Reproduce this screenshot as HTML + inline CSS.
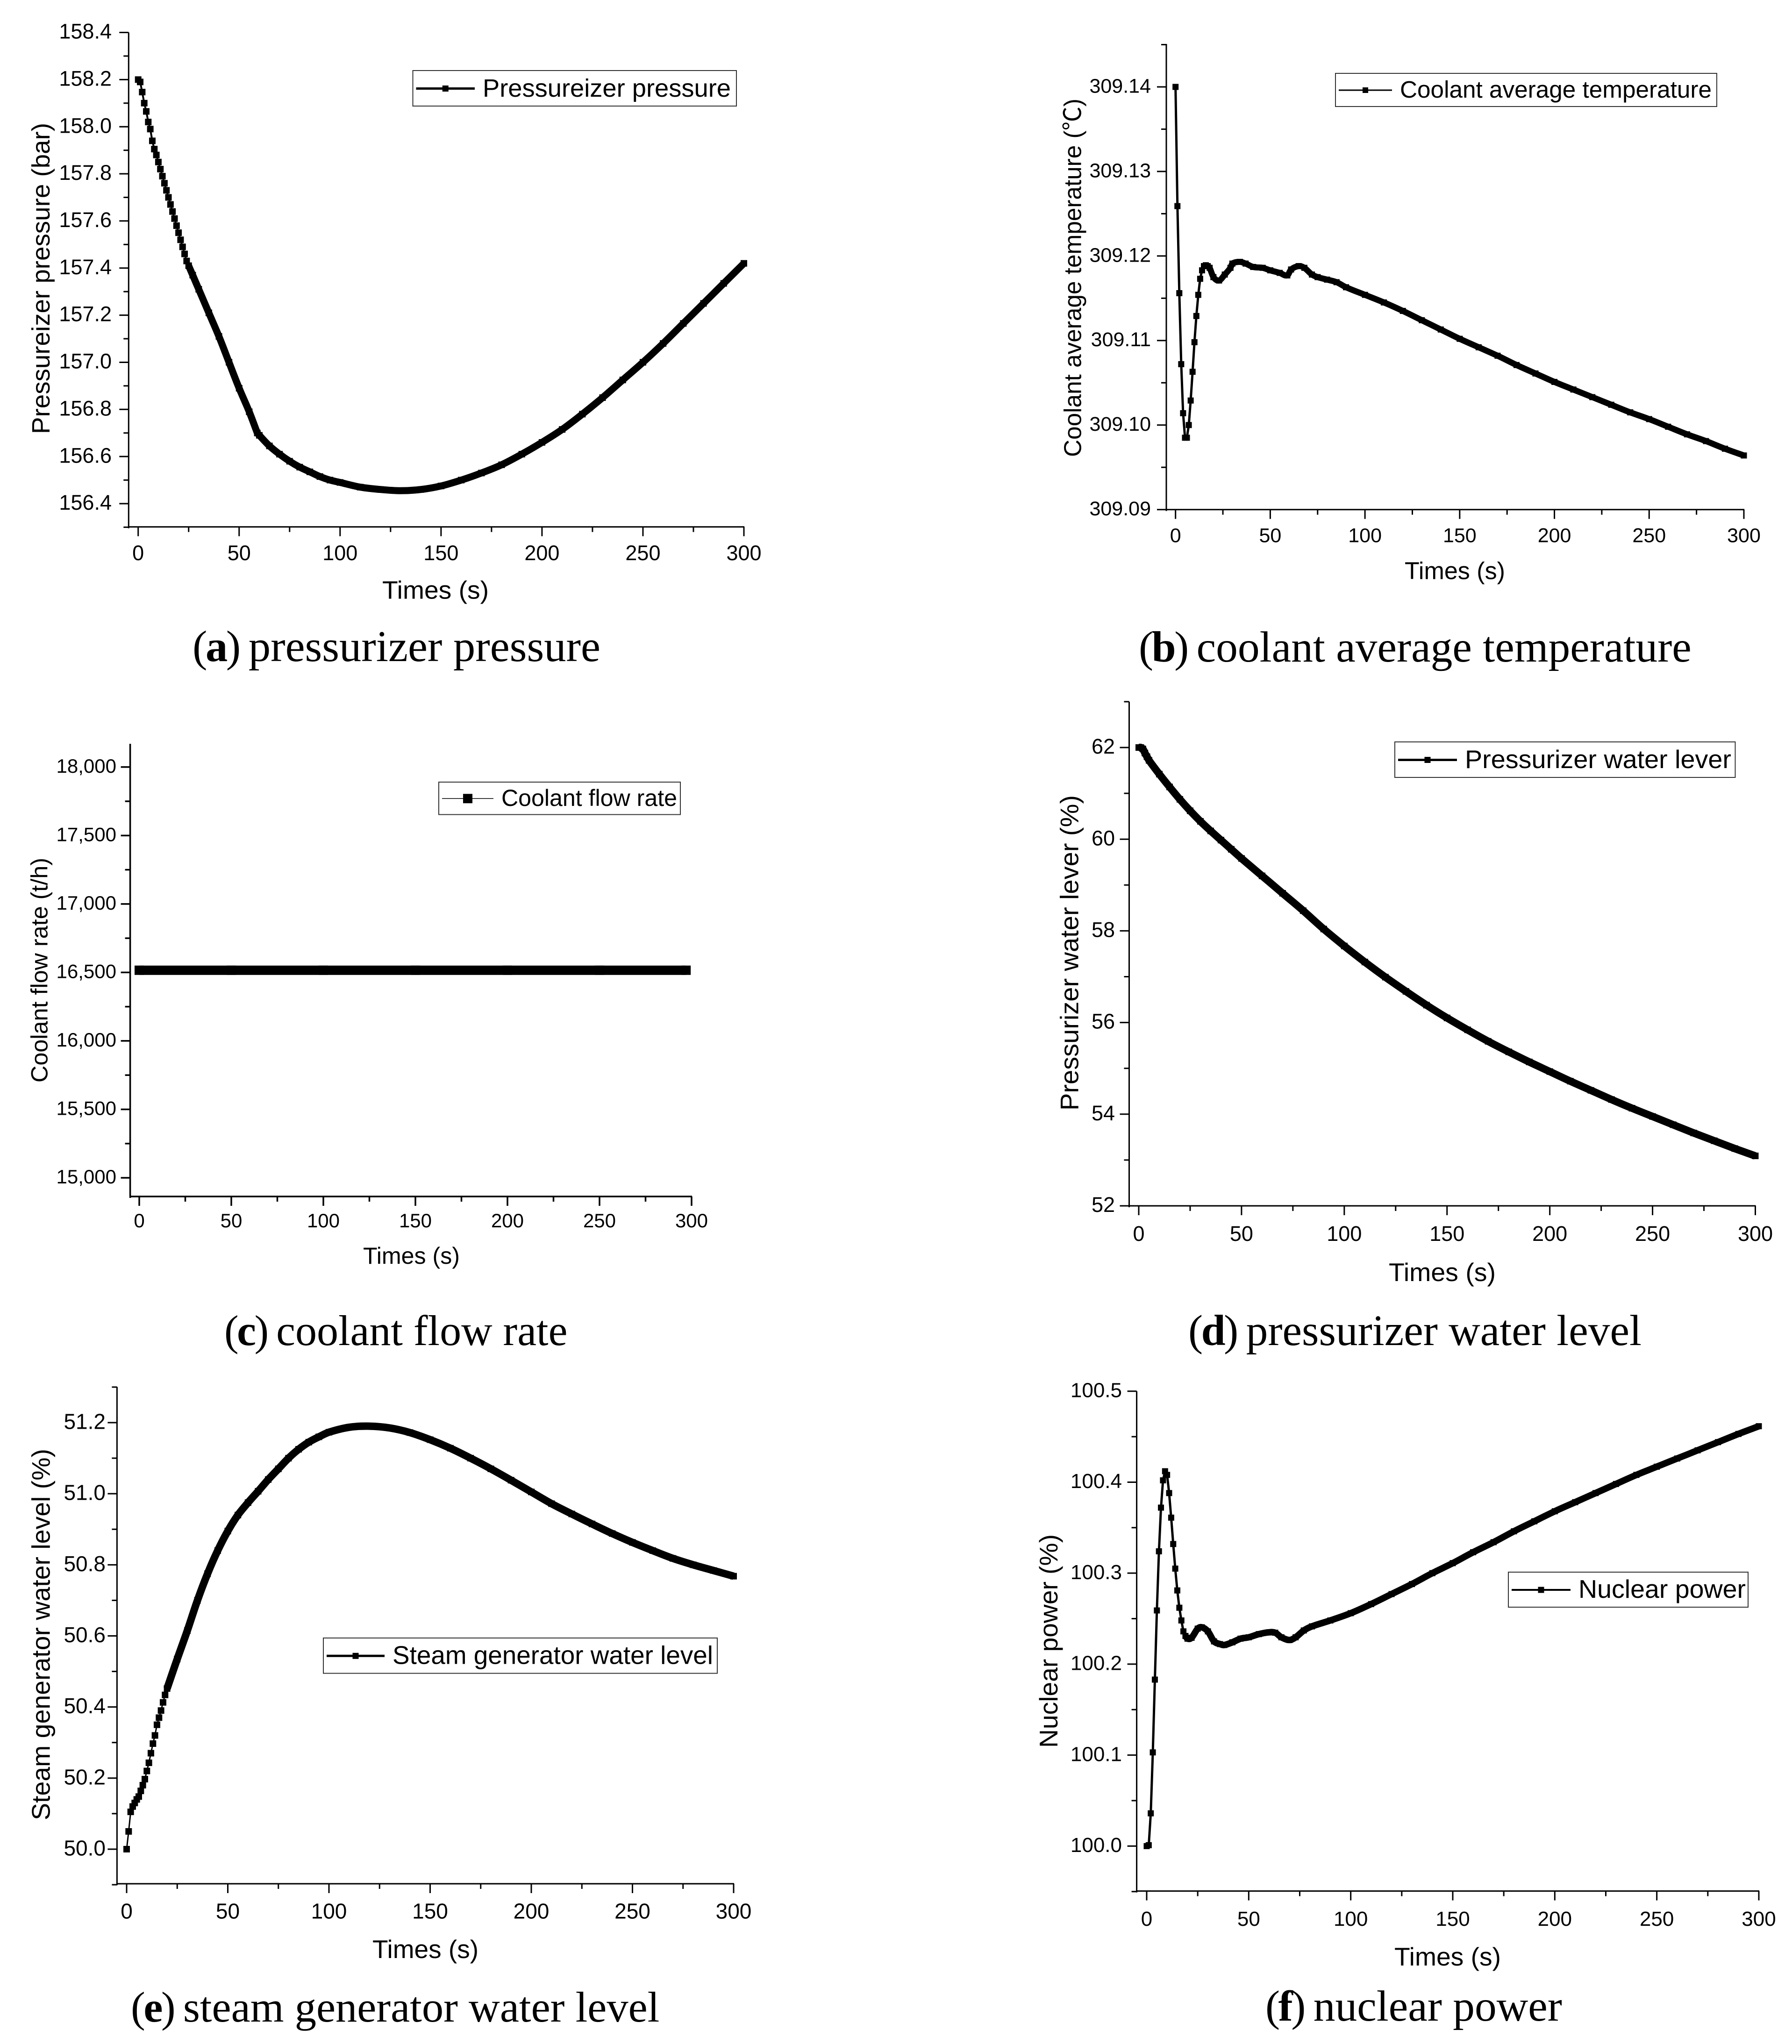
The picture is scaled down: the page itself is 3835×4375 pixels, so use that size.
<!DOCTYPE html>
<html lang="en">
<head>
<meta charset="utf-8">
<title>Transient response charts</title>
<style>
html,body{margin:0;padding:0;background:#fff;}
svg{display:block;}
text{font-family:"Liberation Sans","Noto Sans CJK SC",sans-serif;fill:#000;}
.caption{font-family:"Liberation Serif","Noto Serif CJK SC",serif;font-size:93.5px;}
.caption .p{letter-spacing:-3.5px;}
.caption .b{font-weight:bold;}
</style>
</head>
<body>
<svg id="figure" xmlns="http://www.w3.org/2000/svg" width="3835" height="4375" viewBox="0 0 3835 4375">
<rect width="3835" height="4375" fill="#fff"/>
<text class="caption" x="412" y="1415" style="font-size:94.5px"><tspan class="p">(<tspan class="b">a</tspan>) </tspan>pressurizer pressure</text>
<text class="caption" x="2437" y="1416"><tspan class="p">(<tspan class="b">b</tspan>) </tspan>coolant average temperature</text>
<text class="caption" x="480" y="2879" style="font-size:92px"><tspan class="p">(<tspan class="b">c</tspan>) </tspan>coolant flow rate</text>
<text class="caption" x="2543" y="2879"><tspan class="p">(<tspan class="b">d</tspan>) </tspan>pressurizer water level</text>
<text class="caption" x="280" y="4327" style="font-size:92.5px"><tspan class="p">(<tspan class="b">e</tspan>) </tspan>steam generator water level</text>
<text class="caption" x="2708" y="4325"><tspan class="p">(<tspan class="b">f</tspan>) </tspan>nuclear power</text>
</svg>
<script>
// ---------- shared x axis ----------
const xTicks = [0, 50, 100, 150, 200, 250, 300];
const xTickLabels = ['0', '50', '100', '150', '200', '250', '300'];
const xMinorTicks = [25, 75, 125, 175, 225, 275];

// ---------- (a) pressurizer pressure ----------
const aTimes = [0,1,2,3,4,5,6,7,8,9,10,11,12,13,14,15,16,17,18,19,20,21,22,23,24,25,27,30,35,40,45,50,55,59,60,65,70,75,80,85,90,95,100,110,120,130,140,150,160,170,180,190,200,210,220,230,240,250,260,270,280,290,300];
const aValues = [158.2,158.19,158.147,158.1,158.065,158.02,157.99,157.94,157.905,157.88,157.85,157.82,157.79,157.76,157.73,157.7,157.67,157.64,157.61,157.58,157.55,157.52,157.49,157.46,157.43,157.41,157.37,157.31,157.21,157.11,157.0,156.89,156.79,156.7,156.69,156.645,156.61,156.58,156.555,156.535,156.515,156.5,156.49,156.47,156.46,156.455,156.46,156.475,156.5,156.53,156.565,156.61,156.66,156.715,156.78,156.85,156.925,157.0,157.08,157.165,157.25,157.335,157.42];
const aYTicks = [156.4,156.6,156.8,157.0,157.2,157.4,157.6,157.8,158.0,158.2,158.4];
const aYLabels = ['156.4','156.6','156.8','157.0','157.2','157.4','157.6','157.8','158.0','158.2','158.4'];
const aYMinor = [156.3,156.5,156.7,156.9,157.1,157.3,157.5,157.7,157.9,158.1,158.3];

// ---------- (b) coolant average temperature ----------
const bTimes = [0,1,2,3,4,5,6,7,8,9,10,11,12,13,14,15,16,17,18,20,23,26,29,30,34,37,41,46,50,55,59,61,65,68,72,75,80,85,90,100,110,120,130,140,150,160,170,180,190,200,210,220,230,240,250,260,270,280,290,300];
const bValues = [309.14,309.1259,309.1156,309.1072,309.1014,309.0985,309.0985,309.1,309.1029,309.1063,309.1098,309.1129,309.1154,309.1173,309.1183,309.1188,309.1189,309.1188,309.1186,309.1175,309.1171,309.1178,309.1186,309.1191,309.1193,309.1191,309.1187,309.1186,309.1183,309.118,309.1177,309.1184,309.1188,309.1186,309.1178,309.1175,309.1172,309.1169,309.1163,309.1154,309.1145,309.1135,309.1124,309.1113,309.1102,309.1092,309.1082,309.1071,309.1061,309.1051,309.1042,309.1033,309.1024,309.1015,309.1007,309.0998,309.0989,309.0981,309.0972,309.0964];
const bYTicks = [309.09,309.10,309.11,309.12,309.13,309.14];
const bYLabels = ['309.09','309.10','309.11','309.12','309.13','309.14'];
const bYMinor = [309.095,309.105,309.115,309.125,309.135,309.145];

// ---------- (c) coolant flow rate ----------
const cTimes = [0,50,100,150,200,250,297];
const cValues = [16516,16516,16516,16516,16516,16516,16516];
const cYTicks = [15000,15500,16000,16500,17000,17500,18000];
const cYLabels = ['15,000','15,500','16,000','16,500','17,000','17,500','18,000'];
const cYMinor = [15250,15750,16250,16750,17250,17750];

// ---------- (d) pressurizer water level ----------
const dTimes = [0,1,2,3,4,5,10,15,20,25,30,35,40,45,50,60,70,80,90,100,110,120,130,140,150,160,170,180,190,200,210,220,230,240,250,260,270,280,290,300];
const dValues = [62,62,61.97,61.88,61.8,61.72,61.42,61.14,60.87,60.62,60.39,60.18,59.98,59.78,59.58,59.2,58.82,58.44,58.04,57.67,57.32,56.99,56.68,56.38,56.1,55.84,55.59,55.36,55.14,54.93,54.72,54.52,54.32,54.13,53.95,53.77,53.59,53.42,53.25,53.09];
const dYTicks = [52,54,56,58,60,62];
const dYLabels = ['52','54','56','58','60','62'];
const dYMinor = [53,55,57,59,61,63];

// ---------- (e) steam generator water level ----------
const eTimes = [0,1,2,3,4,5,6,7,8,9,10,11,12,13,14,15,16,17,18,19,20,25,30,35,40,45,50,55,60,65,70,75,80,85,90,95,100,110,120,130,140,150,160,170,180,190,200,210,220,230,240,250,260,270,280,290,300];
const eValues = [50.0,50.05,50.105,50.12,50.13,50.14,50.148,50.164,50.18,50.197,50.22,50.243,50.27,50.297,50.32,50.35,50.37,50.39,50.413,50.434,50.452,50.535,50.615,50.7,50.775,50.84,50.895,50.94,50.975,51.007,51.04,51.07,51.1,51.125,51.145,51.16,51.173,51.187,51.19,51.185,51.172,51.152,51.128,51.1,51.07,51.038,51.005,50.972,50.943,50.915,50.888,50.863,50.84,50.818,50.8,50.784,50.768];
const eYTicks = [50.0,50.2,50.4,50.6,50.8,51.0,51.2];
const eYLabels = ['50.0','50.2','50.4','50.6','50.8','51.0','51.2'];
const eYMinor = [49.9,50.1,50.3,50.5,50.7,50.9,51.1,51.3];

// ---------- (f) nuclear power ----------
const fTimes = [0,1,2,3,4,5,6,7,8,9,10,11,12,13,14,15,16,17,18,19,20,22,25,27,30,33,36,38,42,46,50,55,60,63,66,70,73,77,81,90,100,110,120,130,140,150,160,170,180,190,200,210,220,230,240,250,260,270,280,290,300];
const fValues = [100.0,100.001,100.036,100.103,100.183,100.259,100.324,100.372,100.402,100.412,100.408,100.388,100.361,100.332,100.305,100.281,100.262,100.248,100.236,100.231,100.228,100.229,100.239,100.2405,100.236,100.225,100.222,100.221,100.224,100.228,100.2295,100.233,100.235,100.2345,100.2295,100.2265,100.2295,100.237,100.2415,100.248,100.256,100.266,100.277,100.288,100.3,100.311,100.323,100.334,100.346,100.357,100.368,100.378,100.388,100.398,100.408,100.417,100.426,100.435,100.444,100.453,100.4615];
const fYTicks = [100.0,100.1,100.2,100.3,100.4,100.5];
const fYLabels = ['100.0','100.1','100.2','100.3','100.4','100.5'];
const fYMinor = [99.95,100.05,100.15,100.25,100.35,100.45];

const SVG_NS = 'http://www.w3.org/2000/svg';
const figure = document.getElementById('figure');

function make(tag, parent, attrs) {
  const el = document.createElementNS(SVG_NS, tag);
  for (const k in attrs) el.setAttribute(k, attrs[k]);
  parent.appendChild(el);
  return el;
}

// Smooth path through the given points (cubic Hermite); a sharp corner is kept at kink times.
function smoothPath(ts, xs, ys, kinks) {
  const n = xs.length;
  if (n < 2) return '';
  const seg = i => (ys[i + 1] - ys[i]) / (xs[i + 1] - xs[i]);
  let d = 'M' + xs[0].toFixed(1) + ' ' + ys[0].toFixed(1);
  const tangent = (i, side) => {
    if (i === 0) return seg(0);
    if (i === n - 1) return seg(n - 2);
    if (kinks.includes(ts[i])) return side === 'left' ? seg(i - 1) : seg(i);
    return (ys[i + 1] - ys[i - 1]) / (xs[i + 1] - xs[i - 1]);
  };
  for (let i = 0; i < n - 1; i++) {
    const h = (xs[i + 1] - xs[i]) / 3;
    const c1y = ys[i] + tangent(i, 'right') * h;
    const c2y = ys[i + 1] - tangent(i + 1, 'left') * h;
    d += 'C' + (xs[i] + h).toFixed(1) + ' ' + c1y.toFixed(1) + ' ' + (xs[i + 1] - h).toFixed(1) + ' ' + c2y.toFixed(1) + ' ' + xs[i + 1].toFixed(1) + ' ' + ys[i + 1].toFixed(1);
  }
  return d;
}

function drawChart(c) {
  const g = make('g', figure, {});
  
  

  const xOf = t => c.x0 + t * (c.x300 - c.x0) / 300;
  const yOf = v => c.yRefP[0] + (v - c.yRefV[0]) * (c.yRefP[1] - c.yRefP[0]) / (c.yRefV[1] - c.yRefV[0]);

  // spines
  const ySpine = make('line', g, {x1: c.spine, x2: c.spine, y1: c.top, y2: c.bottom + 3, stroke: '#000', 'stroke-width': c.axisW});
  
  
  const xSpine = make('line', g, {x1: c.spine - 1.5, x2: c.x300 + 1, y1: c.bottom, y2: c.bottom, stroke: '#000', 'stroke-width': c.axisW});
  
  

  // x ticks
  xTicks.forEach((t, i) => {
    const tick = make('line', g, {x1: xOf(t), x2: xOf(t), y1: c.bottom, y2: c.bottom + 20, stroke: '#000', 'stroke-width': c.axisW});
    
    
    const label = make('text', g, {x: xOf(t), y: c.xLabelY + 0.358 * c.tickFont, 'font-size': c.tickFont, 'text-anchor': 'middle'});
    label.textContent = xTickLabels[i];
    
    
  });
  xMinorTicks.forEach(t => {
    const tick = make('line', g, {x1: xOf(t), x2: xOf(t), y1: c.bottom, y2: c.bottom + 11, stroke: '#000', 'stroke-width': c.axisW});
    
    
  });

  // y ticks
  c.yTicks.forEach((v, i) => {
    const tick = make('line', g, {x1: c.spine - 20, x2: c.spine, y1: yOf(v), y2: yOf(v), stroke: '#000', 'stroke-width': c.axisW});
    
    
    const label = make('text', g, {x: c.yLabelRight, y: yOf(v) + 0.358 * c.tickFont - 3, 'font-size': c.tickFont, 'text-anchor': 'end'});
    label.textContent = c.yLabels[i];
    
    
  });
  c.yMinor.forEach(v => {
    const tick = make('line', g, {x1: c.spine - 11, x2: c.spine, y1: yOf(v), y2: yOf(v), stroke: '#000', 'stroke-width': c.axisW});
    
    
  });

  // axis titles
  const xTitle = make('text', g, {x: c.xTitle[0], y: c.xTitle[2] + 0.36 * c.titleFont, 'font-size': c.titleFont, textLength: c.xTitle[1] - c.xTitle[0], lengthAdjust: 'spacingAndGlyphs'});
  xTitle.textContent = 'Times (s)';
  
  

  const yBase = c.yTitle[0] + 0.36 * c.titleFont;
  const yTitle = make('text', g, {x: 0, y: 0, transform: 'translate(' + yBase + ',' + c.yTitle[2] + ') rotate(-90)', 'font-size': c.titleFont, textLength: c.yTitle[2] - c.yTitle[1], lengthAdjust: 'spacingAndGlyphs'});
  yTitle.textContent = c.yText;
  
  

  // thin series line through the sparse early samples
  const firstBand = c.times.findIndex(t => t >= c.bandFrom);
  const thinPts = c.times.slice(0, firstBand + 1).map((t, i) => xOf(t).toFixed(1) + ',' + yOf(c.values[i]).toFixed(1));
  const line = make('polyline', g, {points: thinPts.join(' '), fill: 'none', stroke: '#000', 'stroke-width': c.lineW, 'stroke-linejoin': 'round'});
  
  

  // dense part of the series, where the markers merge into a solid band
  const bandTimes = c.times.slice(firstBand);
  const bandValues = c.values.slice(firstBand);
  const band = make('path', g, {d: smoothPath(bandTimes, bandTimes.map(xOf), bandValues.map(yOf), c.kinks), fill: 'none', stroke: '#000', 'stroke-width': c.bandW, 'stroke-linejoin': 'round'});
  
  

  // markers
  c.times.forEach((t, i) => {
    const m = make('rect', g, {x: xOf(t) - c.markerSize / 2, y: yOf(c.values[i]) - c.markerSize / 2, width: c.markerSize, height: c.markerSize, fill: '#000'});
    
    
  });

  // legend
  const [lx1, lx2, ly1, ly2] = c.legendBox;
  const lg = make('g', g, {});
  
  
  const box = make('rect', lg, {x: lx1, y: ly1, width: lx2 - lx1, height: ly2 - ly1, fill: '#fff', stroke: '#333', 'stroke-width': 2});
  
  
  const midY = (ly1 + ly2) / 2 + 0.5;
  const [tx1, tx2] = c.legendText;
  const sw1 = lx1 + 7, sw2 = tx1 - 17;
  const sample = make('line', lg, {x1: sw1, x2: sw2, y1: midY, y2: midY, stroke: '#000', 'stroke-width': c.legendLineW});
  
  
  const ms = c.legendMarker;
  const mk = make('rect', lg, {x: (sw1 + sw2) / 2 - ms / 2, y: midY - ms / 2, width: ms, height: ms, fill: '#000'});
  
  
  const lt = make('text', lg, {x: tx1, y: ly1 + 0.735 * (ly2 - ly1), 'font-size': c.legendFont, textLength: tx2 - tx1, lengthAdjust: 'spacingAndGlyphs'});
  lt.textContent = c.legendLabel;
  
  
}

drawChart({id:'a', times:aTimes, values:aValues, yTicks:aYTicks, yLabels:aYLabels, yMinor:aYMinor, kinks:[59],
  spine:275.3, x0:295.7, x300:1592, top:69.5, bottom:1127.7, yRefV:[156.4,158.4], yRefP:[1078,69.5],
  axisW:3, tickFont:45, titleFont:54, xLabelY:1183, yLabelRight:239, xTitle:[818,1046,1262], yTitle:[86.7,263,929],
  yText:'Pressureizer pressure (bar)', lineW:4, bandFrom:25, bandW:15, markerSize:14,
  legendBox:[883.5,1576,151,227], legendText:[1033,1564], legendFont:54, legendLineW:5, legendMarker:13, legendLabel:'Pressureizer pressure'});

drawChart({id:'b', times:bTimes, values:bValues, yTicks:bYTicks, yLabels:bYLabels, yMinor:bYMinor, kinks:[],
  spine:2496, x0:2515.7, x300:3732, top:94, bottom:1090.7, yRefV:[309.09,309.14], yRefP:[1090.7,186],
  axisW:3, tickFont:43, titleFont:52, xLabelY:1145, yLabelRight:2463, xTitle:[3006,3221,1221], yTitle:[2295,211,978],
  yText:'Coolant average temperature (℃)', lineW:5, bandFrom:15, bandW:13, markerSize:13,
  legendBox:[2858,3674,157,228], legendText:[2996,3663], legendFont:51, legendLineW:3, legendMarker:12, legendLabel:'Coolant average temperature'});

drawChart({id:'c', times:cTimes, values:cValues, yTicks:cYTicks, yLabels:cYLabels, yMinor:cYMinor, kinks:[],
  spine:278.6, x0:298, x300:1480, top:1592, bottom:2561, yRefV:[15000,18000], yRefP:[2521,1641.8],
  axisW:3.5, tickFont:42, titleFont:50, xLabelY:2612, yLabelRight:249, xTitle:[777,984,2687], yTitle:[83.5,1836,2317],
  yText:'Coolant flow rate (t/h)', lineW:2, bandFrom:0, bandW:20, markerSize:20,
  legendBox:[939,1456,1674,1743.5], legendText:[1073,1449], legendFont:50, legendLineW:1.5, legendMarker:20, legendLabel:'Coolant flow rate'});

drawChart({id:'d', times:dTimes, values:dValues, yTicks:dYTicks, yLabels:dYLabels, yMinor:dYMinor, kinks:[],
  spine:2416.5, x0:2437, x300:3756.5, top:1502, bottom:2581, yRefV:[52,62], yRefP:[2581,1600],
  axisW:3, tickFont:45, titleFont:55, xLabelY:2640, yLabelRight:2386, xTitle:[2972,3201,2722], yTitle:[2287.5,1702,2377],
  yText:'Pressurizer water lever (%)', lineW:4, bandFrom:0, bandW:16, markerSize:14,
  legendBox:[2985,3713.5,1588,1664], legendText:[3135,3705], legendFont:55, legendLineW:5, legendMarker:13, legendLabel:'Pressurizer water lever'});

drawChart({id:'e', times:eTimes, values:eValues, yTicks:eYTicks, yLabels:eYLabels, yMinor:eYMinor, kinks:[],
  spine:250.4, x0:271, x300:1570, top:2968.5, bottom:4032, yRefV:[50,51.2], yRefP:[3958,3045],
  axisW:3, tickFont:46, titleFont:55, xLabelY:4090, yLabelRight:226, xTitle:[797,1024,4171], yTitle:[86.7,3101,3896],
  yText:'Steam generator water level (%)', lineW:3, bandFrom:20, bandW:16, markerSize:14,
  legendBox:[692,1535,3506,3581.6], legendText:[840,1526], legendFont:55, legendLineW:5, legendMarker:13, legendLabel:'Steam generator water level'});

drawChart({id:'f', times:fTimes, values:fValues, yTicks:fYTicks, yLabels:fYLabels, yMinor:fYMinor, kinks:[],
  spine:2432.6, x0:2454, x300:3764, top:2977.7, bottom:4047.6, yRefV:[100,100.5], yRefP:[3951.4,2977.7],
  axisW:3, tickFont:44, titleFont:55, xLabelY:4106, yLabelRight:2401, xTitle:[2984,3212,4187], yTitle:[2243,3284,3741],
  yText:'Nuclear power (%)', lineW:5, bandFrom:19, bandW:14, markerSize:13,
  legendBox:[3228,3741,3365,3440], legendText:[3378,3736], legendFont:55, legendLineW:4, legendMarker:13, legendLabel:'Nuclear power'});
</script>
</body>
</html>
